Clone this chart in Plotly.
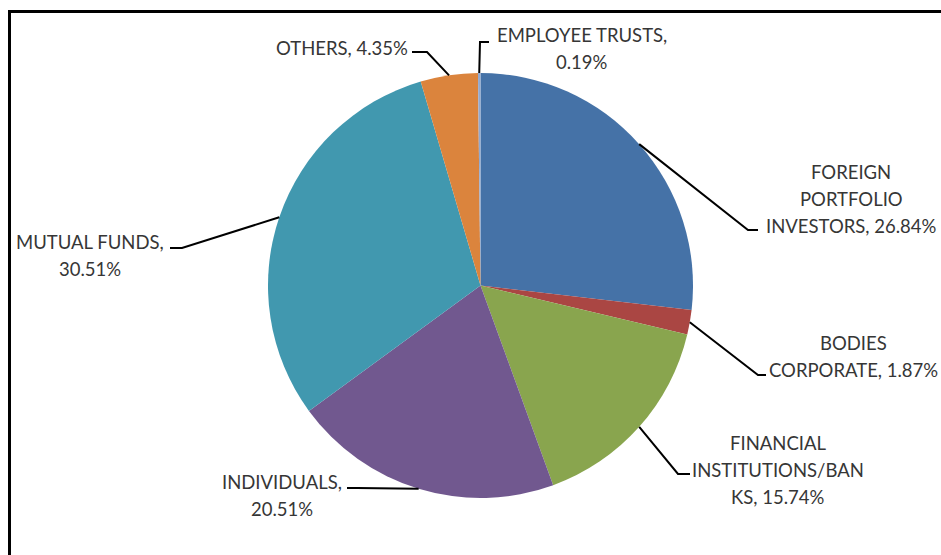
import math
import plotly.graph_objects as go

# ---------------- data ----------------
categories = ["FOREIGN PORTFOLIO INVESTORS", "BODIES CORPORATE",
              "FINANCIAL INSTITUTIONS/BANKS", "INDIVIDUALS", "MUTUAL FUNDS",
              "OTHERS", "EMPLOYEE TRUSTS"]
shares = [26.84, 1.87, 15.74, 20.51, 30.51, 4.35, 0.19]
# wrapped label lines ({v} replaced by the share)
label_templates = [
    ["FOREIGN", "PORTFOLIO", "INVESTORS, {v}"],
    ["BODIES", "CORPORATE, {v}"],
    ["FINANCIAL", "INSTITUTIONS/BAN", "KS, {v}"],
    ["INDIVIDUALS,", "{v}"],
    ["MUTUAL FUNDS,", "{v}"],
    ["OTHERS, {v}"],
    ["EMPLOYEE TRUSTS,", "{v}"],
]
colors = ["#4572A7", "#AA4643", "#89A54E", "#71588F", "#4198AF", "#DB843D", "#93A9CF"]

# ---------------- layout (page pixels) ----------------
W, H = 941, 555
CX, CY, R = 480.5, 285.5, 212.5
# label block centre x, first-line y
label_pos = [(851, 172), (853, 343), (778, 443), (282, 482), (90, 242), (342, 48), (582, 35)]
line_gap = 27
# leader line elbow and end points
leader_pts = [((748, 230), (758, 230)), ((758, 375), (766, 375)),
              ((678, 474), (690, 474)), ((357, 488), (347, 488)),
              ((182, 248), (170, 248)), ((427, 52), (412, 52)),
              ((480, 42), (489, 42))]

FONT = "Lato"
TXT = "#363636"


def px(x):
    return x / W


def py(y):
    return 1 - y / H


fig = go.Figure(go.Pie(
    labels=categories, values=shares, sort=False, direction="clockwise",
    rotation=0, textinfo="none", hoverinfo="label+percent",
    marker=dict(colors=colors, line=dict(width=0)),
    domain=dict(x=[px(CX - R), px(CX + R)], y=[py(CY + R), py(CY - R)]),
    showlegend=False,
))

annotations = []
shapes = []
total = sum(shares)
cum = 0.0
for i, v in enumerate(shares):
    mid = (cum + v / 2) / total * 2 * math.pi
    cum += v
    sx = CX + R * math.sin(mid)
    sy = CY - R * math.cos(mid)
    (ex, ey), (tx, ty) = leader_pts[i]
    shapes.append(dict(
        type="path", xref="paper", yref="paper",
        path=f"M {px(sx)} {py(sy)} L {px(ex)} {py(ey)} L {px(tx)} {py(ty)}",
        line=dict(color="black", width=2)))
    lx, ly = label_pos[i]
    for j, t in enumerate(label_templates[i]):
        annotations.append(dict(
            x=px(lx), y=py(ly + j * line_gap), xref="paper", yref="paper",
            text=t.format(v=f"{v:.2f}%"), showarrow=False,
            xanchor="center", yanchor="middle",
            font=dict(family=FONT, size=18.5, color=TXT)))

# chart frame (cropped at right and bottom)
shapes.append(dict(type="rect", xref="paper", yref="paper",
                   x0=px(9.5), x1=px(990), y0=py(11.5), y1=py(600),
                   line=dict(color="black", width=3)))

fig.update_layout(
    width=W, height=H, margin=dict(l=0, r=0, t=0, b=0),
    paper_bgcolor="white", plot_bgcolor="white",
    annotations=annotations, shapes=shapes,
)

fig.write_html("out.html", config={"displayModeBar": False},
               post_script="document.body.style.margin='0';"
                           "document.body.style.overflow='hidden';")
